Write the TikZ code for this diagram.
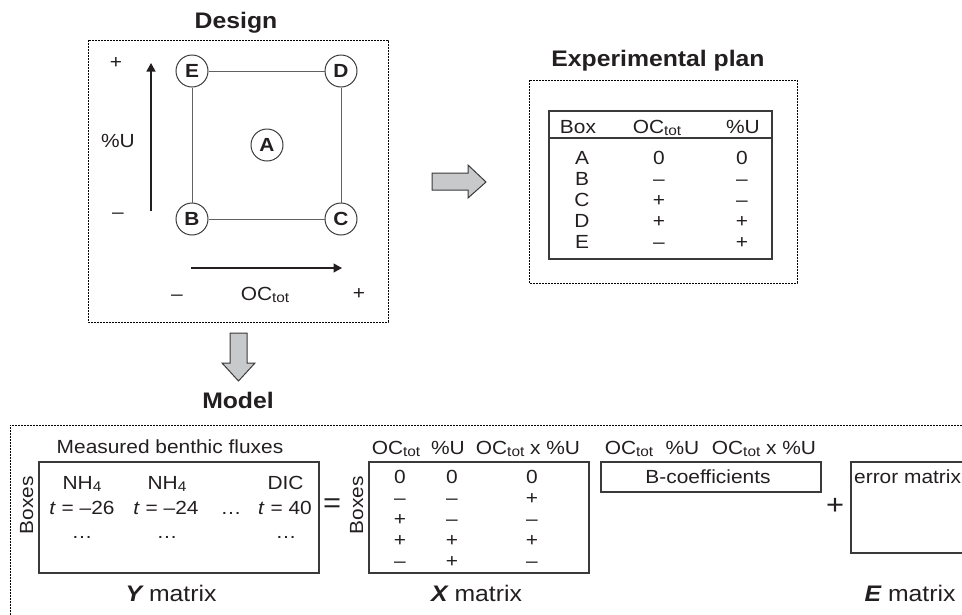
\documentclass[tikz,border=0pt]{standalone}
\usepackage{fontspec}
\setmainfont{Liberation Sans}[FakeStretch=1.1]
\usetikzlibrary{arrows.meta}
\definecolor{txt}{HTML}{231F20}
\definecolor{ln}{HTML}{3A3A3A}
\definecolor{afill}{HTML}{C8C9CA}
\newcommand\fsr{\fontsize{19}{22}\selectfont}
\newcommand\fsb{\fontsize{22.5}{26}\selectfont\bfseries}
\newcommand\fsm{\fontsize{22.5}{26}\selectfont}
\newcommand\fso{\fontsize{28}{32}\selectfont}
\newcommand\fsc{\fontsize{19}{22}\selectfont\bfseries}
\newcommand\subt[1]{\raisebox{-2.5pt}{\fontsize{14}{14}\selectfont #1}}
\newcommand\OCt{OC\subt{tot}}
\tikzset{
  lab/.style={inner sep=0pt, anchor=base, font=\fsr, text=txt},
  ttl/.style={inner sep=0pt, anchor=base, font=\fsb, text=txt},
  mlab/.style={inner sep=0pt, anchor=base, font=\fsm, text=txt},
  oplab/.style={inner sep=0pt, anchor=base, font=\fso, text=txt},
  circ/.style={circle, draw=ln, line width=1pt, minimum size=32pt, inner sep=0pt, font=\fsc, text=txt},
  sq/.style={draw=ln!80, line width=1pt},
  axis/.style={draw=txt, line width=1.3pt, -{Triangle[length=8.5pt,width=9pt]}},
  dotbox/.style={draw=black, line width=0.9pt, dash pattern=on 1.6pt off 1.4pt},
  mbox/.style={draw=ln, line width=1.2pt},
  blk/.style={draw=ln, line width=1pt, fill=afill, line join=miter},
}
\begin{document}
\begin{tikzpicture}[x=1pt,y=-1pt]
\useasboundingbox (0,0) rectangle (962,614);
\clip (0,0) rectangle (962,614);

% ---------- Design ----------
\node[ttl] (tdesign) at (236,28) {Design};
\draw[dotbox] (88,40) rectangle (388,322);
\node[circ] (E) at (192,71) {E};
\node[circ] (D) at (341,71) {D};
\node[circ] (B) at (192,219) {B};
\node[circ] (C) at (341,219) {C};
\node[circ] (A) at (267,145) {A};
\draw[sq] (E) -- (D);
\draw[sq] (D) -- (C);
\draw[sq] (C) -- (B);
\draw[sq] (B) -- (E);
\coordinate (vs) at (151,211);
\coordinate (ve) at (151,63);
\draw[axis] (vs) -- (ve);
\coordinate (hs) at (191,268);
\coordinate (he) at (342,268);
\draw[axis] (hs) -- (he);
\node[lab] (uplus) at (116,68.5) {+};
\node[lab] (ulab) at (118,147) {\%U};
\node[lab] (uminus) at (118,218) {–};
\node[lab] (ominus) at (177,300) {–};
\node[lab] (olab) at (265,300) {\OCt};
\node[lab] (oplus) at (359,299) {+};

% ---------- arrows ----------
\draw[blk] (432,173) -- (468,173) -- (468,165) -- (486,182) -- (468,198) -- (468,190) -- (432,190) -- cycle;
\draw[blk] (230,333) -- (247,333) -- (247,363) -- (255,363) -- (238.5,381) -- (222,363) -- (230,363) -- cycle;

% ---------- Experimental plan ----------
\node[ttl] (tplan) at (658,66) {Experimental plan};
\draw[dotbox] (529,80) rectangle (797,283);
\draw[mbox] (549,111) rectangle (772,259);
\draw[mbox] (549,138) -- (772,138);
\node[lab] (hbox) at (578,133) {Box};
\node[lab] (hoc) at (657,133) {\OCt};
\node[lab] (hu) at (743,133) {\%U};
\foreach \n/\a/\b/\yy in {A/0/0/164.5, B/–/–/185.5, C/+/–/206.5, D/+/+/227.5, E/–/+/248.5}{
  \node[lab] (r\n) at (582,\yy) {\n};
  \node[lab] (ro\n) at (659,\yy) {\a};
  \node[lab] (ru\n) at (742,\yy) {\b};
}

% ---------- Model ----------
\node[ttl] (tmodel) at (238,408) {Model};
\draw[dotbox] (10,630) -- (10,425) -- (975,425);

% Y matrix
\node[lab] (meas) at (170,453) {Measured benthic fluxes};
\draw[mbox] (39,462) rectangle (319,573);
\node[lab, rotate=90] (boxes1) at (33,505) {Boxes};
\node[lab] (y11) at (82,489) {NH\subt{4}};
\node[lab] (y12) at (167,489) {NH\subt{4}};
\node[lab] (y13) at (285.5,489) {DIC};
\node[lab] (y21) at (82,514) {\textit{t} = –26};
\node[lab] (y22) at (166,514) {\textit{t} = –24};
\node[lab] (y2d) at (231,514) {…};
\node[lab] (y23) at (285,514) {\textit{t} = 40};
\node[lab] (y31) at (82,538) {…};
\node[lab] (y32) at (167,538) {…};
\node[lab] (y33) at (286,538) {…};
\node[mlab] (ymat) at (171,601.5) {{\bfseries\itshape Y} matrix};

\node[oplab] (eq) at (332,512.5) {=};

% X matrix
\node[lab] (xh1) at (396,454) {\OCt};
\node[lab] (xh2) at (448,454) {\%U};
\node[lab] (xh3) at (528,454) {\OCt\ x \%U};
\draw[mbox] (369,462) rectangle (589,573);
\node[lab, rotate=90] (boxes2) at (363,505) {Boxes};
\foreach \i/\a/\b/\c/\yy in {1/0/0/0/483, 2/–/–/+/504, 3/+/–/–/525, 4/+/+/+/546, 5/–/+/–/567}{
  \node[lab] (xa\i) at (400,\yy) {\a};
  \node[lab] (xb\i) at (452,\yy) {\b};
  \node[lab] (xc\i) at (532,\yy) {\c};
}
\node[mlab] (xmat) at (476.5,601.5) {{\bfseries\itshape X} matrix};

% B coefficients
\node[lab] (bh1) at (629,454) {\OCt};
\node[lab] (bh2) at (682.5,454) {\%U};
\node[lab] (bh3) at (764,454) {\OCt\ x \%U};
\draw[mbox] (601,462) rectangle (821,492);
\node[lab] (bcoef) at (708,483) {B-coefficients};

\node[oplab] (pl) at (835,514) {+};

% E matrix
\draw[mbox] (980,462) -- (851,462) -- (851,553) -- (980,553);
\node[lab, anchor=base west] (err) at (854,483) {error matrix};
\node[mlab] (emat) at (910,601.5) {{\bfseries\itshape E} matrix};
\end{tikzpicture}
\end{document}
